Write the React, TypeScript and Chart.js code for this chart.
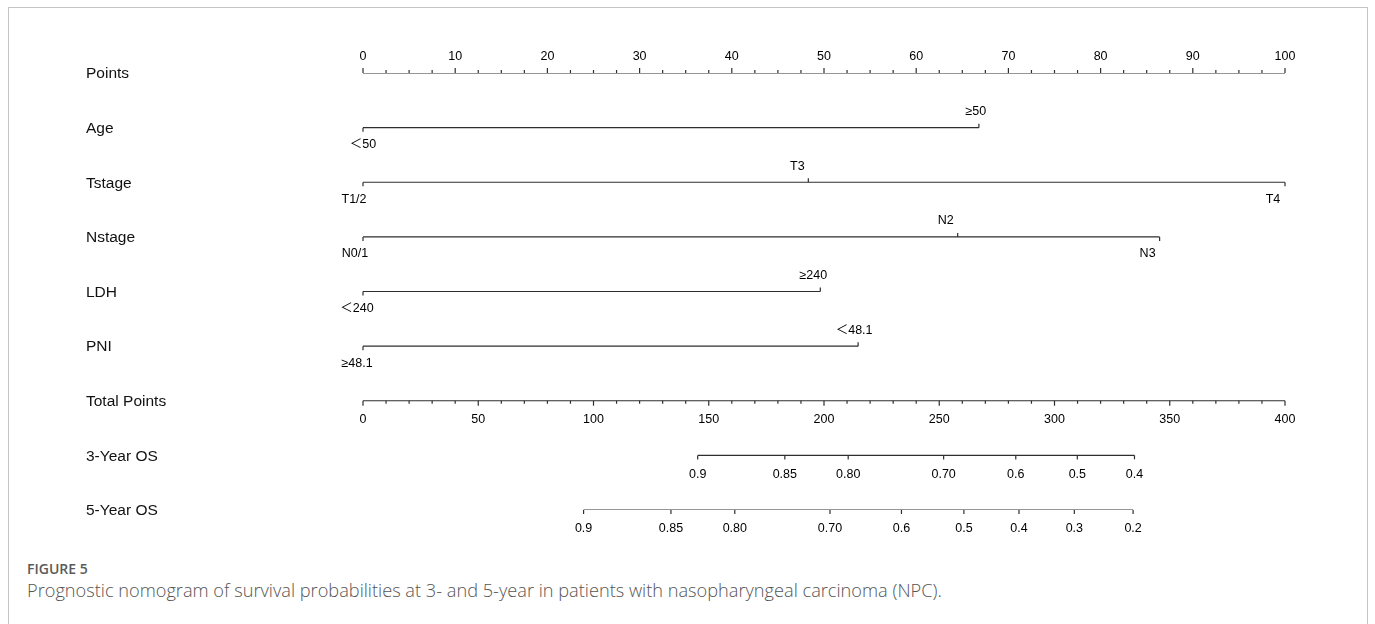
import React, { useEffect, useRef } from "react";
import { Chart, registerables } from "chart.js";

Chart.register(...registerables);

// Row names, top to bottom
const ROW_NAMES = ["Points", "Age", "Tstage", "Nstage", "LDH", "PNI", "Total Points", "3-Year OS", "5-Year OS"];

// Points scale (0-100) and Total Points scale (0-400)
const POINT_TICKS = [0, 10, 20, 30, 40, 50, 60, 70, 80, 90, 100];
const POINT_MINOR_STEP = 2.5;
const TOTAL_TICKS = [0, 50, 100, 150, 200, 250, 300, 350, 400];
const TOTAL_MINOR_STEP = 10;

// Predictor levels and the points each level contributes
const AGE_LEVELS = ["＜50", "≥50"];
const AGE_POINTS = [0, 66.8];
const TSTAGE_LEVELS = ["T1/2", "T3", "T4"];
const TSTAGE_POINTS = [0, 48.3, 100];
const NSTAGE_LEVELS = ["N0/1", "N2", "N3"];
const NSTAGE_POINTS = [0, 64.5, 86.4];
const LDH_LEVELS = ["＜240", "≥240"];
const LDH_POINTS = [0, 49.6];
const PNI_LEVELS = ["≥48.1", "＜48.1"];
const PNI_POINTS = [0, 53.7];

// Survival probabilities and the total points they sit at
const OS3_LABELS = ["0.9", "0.85", "0.80", "0.70", "0.6", "0.5", "0.4"];
const OS3_TOTAL = [145.2, 183.0, 210.5, 251.9, 283.2, 309.9, 334.7];
const OS5_LABELS = ["0.9", "0.85", "0.80", "0.70", "0.6", "0.5", "0.4", "0.3", "0.2"];
const OS5_TOTAL = [95.7, 133.6, 161.3, 202.6, 233.6, 260.7, 284.6, 308.6, 334.1];

const FACTORS = [
  { levels: AGE_LEVELS, points: AGE_POINTS },
  { levels: TSTAGE_LEVELS, points: TSTAGE_POINTS },
  { levels: NSTAGE_LEVELS, points: NSTAGE_POINTS },
  { levels: LDH_LEVELS, points: LDH_POINTS },
  { levels: PNI_LEVELS, points: PNI_POINTS },
];

// Horizontal label nudges (px) for each level label, per factor row
const LEVEL_NUDGE = [
  [0, -3],
  [-9, -11, -12],
  [-8, -12, -12],
  [-6, -7],
  [-6, -4],
];

const LINE_COLOR = "#2e2e2e";
const TEXT_COLOR = "#000000";
const ROW_FONT = '15.5px "Liberation Sans", Arial, sans-serif';
const TICK_FONT = '12.5px "Liberation Sans", Arial, "Noto Sans CJK SC", sans-serif';

const CANVAS_H = 545;

const nomogramPlugin = {
  id: "nomogramMarks",
  afterDatasetsDraw(chart: any) {
    const ctx = chart.ctx as CanvasRenderingContext2D;
    const xs = chart.scales.x;
    const xt = chart.scales.xTotal;
    const ys = chart.scales.y;
    ctx.save();
    ctx.strokeStyle = LINE_COLOR;
    ctx.lineWidth = 1.2;
    ctx.fillStyle = TEXT_COLOR;

    const tick = (px: number, py: number, len: number) => {
      ctx.beginPath();
      ctx.moveTo(px, py);
      ctx.lineTo(px, py + len);
      ctx.stroke();
    };

    // Row names
    ctx.font = ROW_FONT;
    ctx.fillStyle = "#111111";
    ctx.textAlign = "left";
    ctx.textBaseline = "middle";
    ROW_NAMES.forEach((name, i) => ctx.fillText(name, 86, ys.getPixelForValue(i) + 1));

    ctx.font = TICK_FONT;
    ctx.fillStyle = TEXT_COLOR;
    ctx.textAlign = "center";

    // Points axis: ticks upward, labels above
    const yP = ys.getPixelForValue(0);
    const pMax = POINT_TICKS[POINT_TICKS.length - 1];
    for (let v = 0; v <= pMax + 1e-9; v += POINT_MINOR_STEP) {
      const major = POINT_TICKS.includes(v);
      tick(xs.getPixelForValue(v), yP, major ? -5 : -3);
    }
    POINT_TICKS.forEach((v) => ctx.fillText(String(v), xs.getPixelForValue(v), yP - 16));

    // Predictor rows: alternate labels below / above the line
    FACTORS.forEach((f, r) => {
      const yy = ys.getPixelForValue(r + 1);
      f.points.forEach((p, k) => {
        const px = xs.getPixelForValue(p);
        const above = k % 2 === 1;
        tick(px, yy, above ? -4 : 4);
        ctx.fillText(f.levels[k], px + LEVEL_NUDGE[r][k], yy + (above ? -16 : 17));
      });
    });

    // Total points axis: ticks downward, labels below
    const yT = ys.getPixelForValue(6);
    const tMax = TOTAL_TICKS[TOTAL_TICKS.length - 1];
    for (let v = 0; v <= tMax + 1e-9; v += TOTAL_MINOR_STEP) {
      const major = TOTAL_TICKS.includes(v);
      tick(xt.getPixelForValue(v), yT, major ? 5 : 3);
    }
    TOTAL_TICKS.forEach((v) => ctx.fillText(String(v), xt.getPixelForValue(v), yT + 19));

    // Survival axes
    const osRows = [
      { row: 7, labels: OS3_LABELS, total: OS3_TOTAL },
      { row: 8, labels: OS5_LABELS, total: OS5_TOTAL },
    ];
    osRows.forEach(({ row, labels, total }) => {
      const yy = ys.getPixelForValue(row);
      total.forEach((t, k) => {
        const px = xt.getPixelForValue(t);
        tick(px, yy, 4);
        ctx.fillText(labels[k], px, yy + 19);
      });
    });

    ctx.restore();
  },
};

function axisLine(row: number, from: number, to: number, axis: string) {
  return {
    data: [
      { x: from, y: row },
      { x: to, y: row },
    ],
    xAxisID: axis,
    showLine: true,
    borderColor: LINE_COLOR,
    borderWidth: 1.2,
    pointRadius: 0,
    pointHoverRadius: 0,
  };
}

export default function App() {
  const canvasRef = useRef<HTMLCanvasElement | null>(null);

  useEffect(() => {
    if (!canvasRef.current) return;
    const datasets: any[] = [];
    datasets.push(axisLine(0, 0, POINT_TICKS[POINT_TICKS.length - 1], "x"));
    FACTORS.forEach((f, r) => {
      datasets.push(axisLine(r + 1, Math.min(...f.points), Math.max(...f.points), "x"));
    });
    datasets.push(axisLine(6, 0, TOTAL_TICKS[TOTAL_TICKS.length - 1], "xTotal"));
    datasets.push(axisLine(7, Math.min(...OS3_TOTAL), Math.max(...OS3_TOTAL), "xTotal"));
    datasets.push(axisLine(8, Math.min(...OS5_TOTAL), Math.max(...OS5_TOTAL), "xTotal"));

    const chart = new Chart(canvasRef.current, {
      type: "scatter",
      data: { datasets },
      options: {
        animation: false,
        responsive: true,
        maintainAspectRatio: false,
        layout: { padding: { left: 363, right: 90, top: 73, bottom: CANVAS_H - 510 } },
        plugins: { legend: { display: false }, tooltip: { enabled: false } },
        events: [],
        scales: {
          x: { type: "linear", min: 0, max: 100, display: false },
          xTotal: { type: "linear", min: 0, max: 400, display: false },
          y: { type: "linear", min: 0, max: 8, reverse: true, display: false },
        },
      },
      plugins: [nomogramPlugin],
    });
    return () => chart.destroy();
  }, []);

  return (
    <div style={{ position: "absolute", left: 0, top: 0, width: 1375, height: 624, overflow: "hidden", background: "#fff" }}>
      <div
        style={{
          position: "absolute",
          left: 8,
          top: 7,
          width: 1360,
          height: 700,
          border: "1px solid #c4c4c4",
          boxSizing: "border-box",
        }}
      />
      <div style={{ position: "absolute", left: 0, top: 0, width: 1375, height: CANVAS_H }}>
        <canvas ref={canvasRef} />
      </div>
      <div
        style={{
          position: "absolute",
          left: 27,
          top: 559,
          font: '600 14px "Open Sans", sans-serif',
          lineHeight: "19px",
          color: "#5a5a5a",
        }}
      >
        FIGURE 5
      </div>
      <div
        style={{
          position: "absolute",
          left: 27,
          top: 578,
          font: '300 18.2px "Open Sans", sans-serif',
          lineHeight: "25px",
          color: "#555",
          whiteSpace: "nowrap",
        }}
      >
        Prognostic nomogram of survival probabilities at 3- and 5-year in patients with nasopharyngeal carcinoma (NPC).
      </div>
    </div>
  );
}
